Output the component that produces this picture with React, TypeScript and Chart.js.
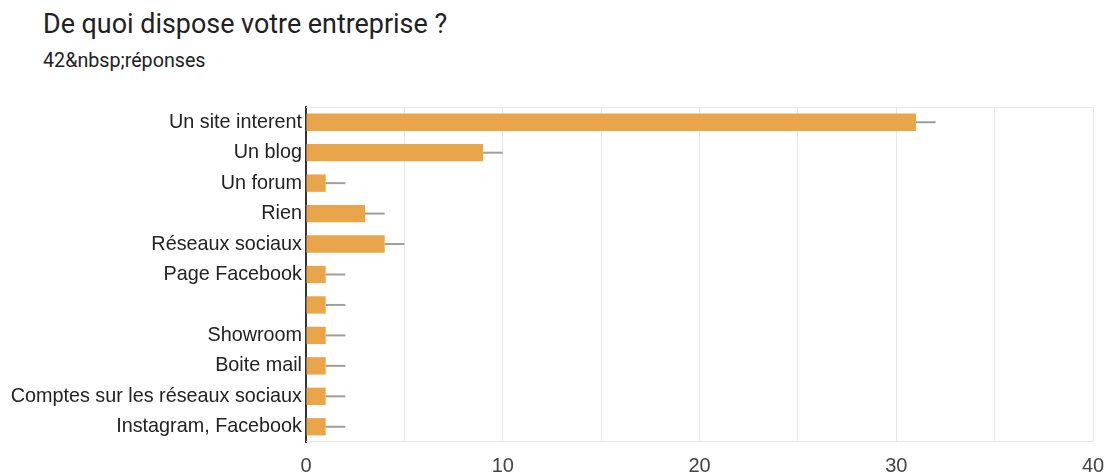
import React, { useEffect, useRef } from "react";
import { Chart, registerables } from "chart.js";

Chart.register(...registerables);

const title = "De quoi dispose votre entreprise ?";
const subtitle = "42&nbsp;réponses";
const categories = [
  "Un site interent",
  "Un blog",
  "Un forum",
  "Rien",
  "Réseaux sociaux",
  "Page Facebook",
  "",
  "Showroom",
  "Boite mail",
  "Comptes sur les réseaux sociaux",
  "Instagram, Facebook",
];
const counts = [31, 9, 1, 3, 4, 1, 1, 1, 1, 1, 1];
const whiskerLength = 1;
const xMax = 40;

const whiskerPlugin = {
  id: "whiskers",
  beforeDatasetsDraw(chart: any) {
    const { ctx, chartArea } = chart;
    ctx.save();
    ctx.strokeStyle = "#e6e6e6";
    ctx.lineWidth = 1;
    ctx.beginPath();
    ctx.moveTo(chartArea.left, chartArea.top + 0.5);
    ctx.lineTo(chartArea.right, chartArea.top + 0.5);
    ctx.moveTo(chartArea.left, chartArea.bottom - 0.5);
    ctx.lineTo(chartArea.right, chartArea.bottom - 0.5);
    ctx.stroke();
    ctx.restore();
  },
  afterDatasetsDraw(chart: any) {
    const { ctx } = chart;
    const meta = chart.getDatasetMeta(0);
    const xs = chart.scales.x;
    ctx.save();
    ctx.strokeStyle = "#9e9e9e";
    ctx.lineWidth = 2;
    meta.data.forEach((bar: any, i: number) => {
      const v = counts[i];
      const x0 = xs.getPixelForValue(v);
      const x1 = xs.getPixelForValue(v + whiskerLength);
      ctx.beginPath();
      ctx.moveTo(x0, bar.y);
      ctx.lineTo(x1, bar.y);
      ctx.stroke();
    });
    ctx.restore();
  },
};

export default function App() {
  const ref = useRef<HTMLCanvasElement>(null);
  useEffect(() => {
    if (!ref.current) return;
    const chart = new Chart(ref.current, {
      type: "bar",
      data: {
        labels: categories,
        datasets: [
          {
            data: counts,
            backgroundColor: "#e9a549",
            borderWidth: 0,
            categoryPercentage: 0.57,
            barPercentage: 1,
          },
        ],
      },
      options: {
        indexAxis: "y",
        animation: false,
        responsive: false,
        layout: { padding: { top: 107, right: 11, left: 0, bottom: 0 } },
        plugins: {
          legend: { display: false },
          tooltip: { enabled: false },
          title: { display: false },
        },
        scales: {
          x: {
            min: 0,
            max: xMax,
            ticks: {
              stepSize: 5,
              color: "#444444",
              padding: 12,
              font: { family: "'Liberation Sans', Arial", size: 20 },
              callback: (v: any) => (Number(v) % 10 === 0 ? String(v) : ""),
              maxRotation: 0,
              autoSkip: false,
            },
            grid: { color: "#e6e6e6", lineWidth: 1, drawTicks: false },
            border: { display: false },
            afterFit: (s: any) => {
              s.height = 31;
              s.paddingLeft = 0;
              s.paddingRight = 0;
            },
          },
          y: {
            ticks: {
              color: "#222222",
              padding: 4,
              font: { family: "'Liberation Sans', Arial", size: 19.8 },
              autoSkip: false,
            },
            grid: { display: false, drawTicks: false },
            border: { display: true, color: "#333333", width: 2 },
            afterFit: (s: any) => {
              s.width = 306;
              s.paddingTop = 0;
              s.paddingBottom = 0;
            },
          },
        },
      },
      plugins: [whiskerPlugin],
    });
    return () => chart.destroy();
  }, []);
  return (
    <div style={{ position: "fixed", left: 0, top: 0, width: 1104, height: 473, background: "#fff", overflow: "hidden" }}>
      <div style={{ position: "absolute", left: 43, top: 11, fontFamily: "Roboto, 'Open Sans', sans-serif", fontSize: 26.9, lineHeight: "27px", color: "#202124", whiteSpace: "nowrap" }}>
        {title}
      </div>
      <div style={{ position: "absolute", left: 43, top: 50.5, fontFamily: "Roboto, 'Open Sans', sans-serif", fontSize: 19.7, lineHeight: "20px", color: "#202124", whiteSpace: "nowrap" }}>
        {subtitle}
      </div>
      <canvas ref={ref} width={1104} height={473} style={{ position: "absolute", left: 0, top: 0 }} />
    </div>
  );
}
